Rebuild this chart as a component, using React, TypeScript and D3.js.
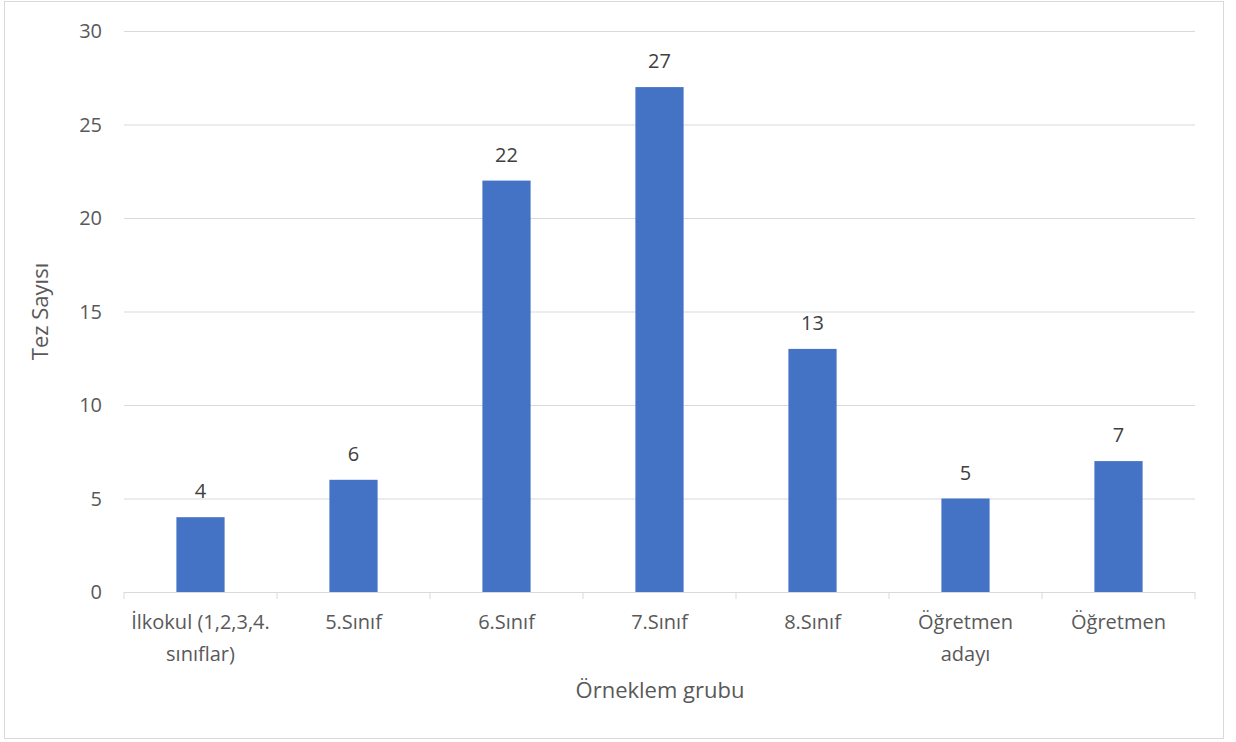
import * as d3 from 'd3';

const categories = [
  ['İlkokul (1,2,3,4.', 'sınıflar)'],
  ['5.Sınıf'],
  ['6.Sınıf'],
  ['7.Sınıf'],
  ['8.Sınıf'],
  ['Öğretmen', 'adayı'],
  ['Öğretmen'],
];
const values = [4, 6, 22, 27, 13, 5, 7];
const yTicks = [0, 5, 10, 15, 20, 25, 30];

const App = () => {
  const width = 1236;
  const height = 742;
  const left = 124;
  const right = 1195;
  const top = 31;
  const bottom = 592;
  const font = "'Open Sans', sans-serif";

  const xScale = d3.scaleBand()
    .domain(categories.map((c, i) => String(i)))
    .range([left, right]);
  const yScale = d3.scaleLinear().domain([0, 30]).range([bottom, top]);
  const barW = xScale.bandwidth() * 0.315;

  return (
    <svg width={width} height={height} style={{ position: 'absolute', left: 0, top: 0 }}>
      <rect x={0} y={0} width={width} height={height} fill="white" />
      <rect x={4.5} y={1.5} width={1219} height={737} fill="none" stroke="#d9d9d9" />
      {yTicks.map((t) => (
        <g key={t}>
          {t > 0 && (
            <line x1={left} x2={right} y1={yScale(t) + 0.5} y2={yScale(t) + 0.5} stroke="#d9d9d9" />
          )}
          <text x={102} y={yScale(t)} dy="0.36em" textAnchor="end" fontFamily={font} fontSize={20} fill="#595959">
            {t}
          </text>
        </g>
      ))}
      {values.map((v, i) => {
        const cx = xScale(String(i))! + xScale.bandwidth() / 2;
        return (
          <g key={i}>
            <rect x={cx - barW / 2} y={yScale(v)} width={barW} height={bottom - yScale(v)} fill="#4472c4" />
            <text x={cx} y={yScale(v) - 19} textAnchor="middle" fontFamily={font} fontSize={20} fill="#404040">
              {v}
            </text>
          </g>
        );
      })}
      <line x1={left} x2={right} y1={bottom + 0.5} y2={bottom + 0.5} stroke="#d9d9d9" />
      {d3.range(categories.length + 1).map((i) => {
        const x = left + i * xScale.step();
        return <line key={i} x1={x} x2={x} y1={bottom} y2={bottom + 7} stroke="#d9d9d9" />;
      })}
      {categories.map((lines, i) => {
        const cx = xScale(String(i))! + xScale.bandwidth() / 2;
        return (
          <text key={i} x={cx} y={629} textAnchor="middle" fontFamily={font} fontSize={20} fill="#595959">
            {lines.map((l, j) => (
              <tspan key={j} x={cx} dy={j === 0 ? 0 : 32}>{l}</tspan>
            ))}
          </text>
        );
      })}
      <text x={660} y={698} textAnchor="middle" fontFamily={font} fontSize={22} fill="#595959">
        Örneklem grubu
      </text>
      <text
        transform={`translate(40, ${(top + bottom) / 2}) rotate(-90)`}
        dy="0.36em"
        textAnchor="middle"
        fontFamily={font}
        fontSize={22}
        fill="#595959"
      >
        Tez Sayısı
      </text>
    </svg>
  );
};

export default App;
